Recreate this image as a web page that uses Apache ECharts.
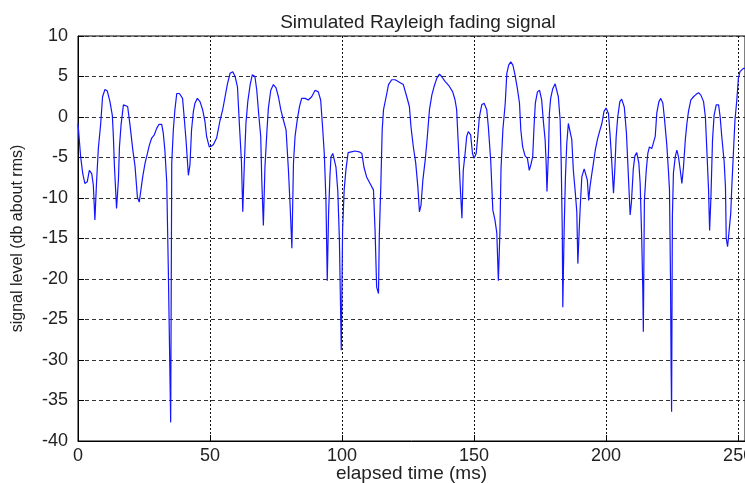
<!DOCTYPE html>
<html>
<head>
<meta charset="utf-8">
<title>Simulated Rayleigh fading signal</title>
<script src="https://cdn.jsdelivr.net/npm/echarts@6/dist/echarts.min.js"></script>
<style>
  html, body { margin: 0; padding: 0; background: #fff; }
  #chart { width: 745px; height: 483px; }
</style>
</head>
<body>
<div id="chart"></div>
<script>
// Elapsed time (ms) of each sample
const timeMs = [
  0, 1, 1.8, 2.6, 3.5, 4.3, 5.2, 5.8, 6.4, 7, 7.7, 8.6, 9.3, 10.2, 11.1, 12.1, 13, 13.4, 13.8, 14.6,
  15.3, 15.7, 16.3, 17.2, 17.9, 18.8, 19.7, 20.7, 21.6, 22.5, 23.2, 23.9, 24.5, 25.4, 26.3, 27, 27.9, 28.9, 29.8, 30.7,
  31.7, 32.3, 32.9, 33.6, 34.2, 35.1, 35.5, 36.1, 36.7, 37.4, 38.4, 39.6, 40.2, 40.9, 41.8, 42.4, 43, 43.7, 44.3, 45.2,
  46.2, 47.2, 48.1, 48.7, 49.7, 50.5, 51.3, 52.5, 53.8, 54.8, 55.7, 56.6, 57.6, 58.6, 59.5, 60.4, 61.1, 61.9, 62.4, 63,
  63.6, 64.3, 65.2, 66, 67, 67.7, 68.4, 69.2, 69.6, 70.2, 70.8, 71.5, 72.1, 73, 74, 75, 75.9, 76.8, 77.8, 78.8,
  79.7, 80.3, 81, 81.6, 82.2, 83.1, 83.9, 84.7, 86, 87.2, 88.5, 89.8, 91, 91.9, 92.7, 93.3, 93.9, 94.4, 94.9, 95.4,
  95.8, 96.5, 97.1, 97.7, 98.4, 99, 99.7, 100.2, 100.8, 101.5, 102.3, 103.5, 104.9, 106.5, 107.5, 108.3, 109.3, 110.6, 111.9, 112.5,
  113.1, 113.8, 114.1, 114.7, 115.2, 115.7, 116.7, 117.6, 118.8, 120.1, 121.7, 123.2, 124.5, 125.5, 126.1, 127, 127.9, 128.7, 129.3, 129.9,
  130.6, 131.5, 132.3, 133.1, 134, 134.8, 135.9, 136.9, 137.7, 139, 140.6, 141.9, 142.8, 143.4, 144.1, 144.7, 145.4, 145.9, 146.6, 147.2,
  147.8, 148.7, 149.4, 150, 150.8, 151.4, 152, 152.9, 153.8, 154.8, 155.4, 156.3, 157.1, 157.9, 158.6, 159.2, 159.8, 160.2, 160.9, 161.8,
  162.4, 163.1, 163.9, 164.7, 165.5, 166.4, 167.2, 167.7, 168.4, 169.3, 170.2, 170.9, 171.5, 172.2, 172.7, 173.2, 174, 174.8, 175.6, 176.2,
  176.9, 177.3, 177.6, 178.2, 178.5, 179, 179.8, 180.7, 181.3, 181.9, 182.6, 183, 183.4, 183.6, 184.1, 184.6, 185.1, 185.7, 186.4, 187,
  187.6, 188.3, 188.9, 189.3, 189.8, 190.2, 190.8, 191.7, 192.4, 192.9, 193.4, 193.9, 194.6, 195.2, 195.9, 196.7, 197.5, 198.4, 199.2, 200,
  200.9, 201.5, 202.1, 202.8, 203.3, 203.8, 204.4, 205.2, 205.9, 206.9, 207.7, 208.4, 209.1, 209.6, 210.3, 210.9, 211.6, 212.4, 212.9, 213.5,
  213.9, 214.1, 214.5, 215.2, 215.8, 216.4, 217.3, 218, 218.6, 219.2, 220, 220.7, 221.5, 222.1, 223, 223.6, 224, 224.4, 224.6, 224.8,
  225.1, 225.5, 226.2, 226.8, 227.4, 228.1, 228.7, 229.3, 230, 230.6, 231.2, 232.1, 233.1, 234.1, 235, 235.9, 236.9, 237.6, 238.1, 238.8,
  239.2, 239.7, 240.3, 240.9, 241.7, 242.6, 243.2, 243.8, 244.7, 245.2, 245.5, 246, 246.6, 247.2, 247.6, 248.2, 248.8, 249.5, 250.1, 250.7,
  252, 253
];

// Signal level (dB about rms) at each sample
const levelDb = [
  -0.8, -4.9, -7, -8.2, -8, -6.6, -7, -8.4, -12.7, -8.2, -3.9, -0.8, 2.5, 3.4, 3.2, 1.9, 0.2, -2.4, -6.1, -11.3,
  -7.8, -3.7, -1, 1.5, 1.6, 1.3, -1, -3.9, -6.1, -9.9, -10.5, -10.3, -7.4, -5.7, -4.5, -3.5, -2.6, -2.2, -1.4, -0.9,
  -0.9, -2, -4.1, -8, -18.7, -37.7, -5.7, -1.6, 0.9, 2.9, 2.9, 2.3, 0, -2.8, -7.2, -5.9, -1.6, 0.7, 1.7, 2.3,
  1.9, 0.9, -0.6, -2.4, -3.7, -3.6, -3.4, -2.6, -0.4, 0.9, 2.5, 4.1, 5.4, 5.6, 5, 3.7, -0.8, -5.5, -11.7, -5.7,
  -0.8, 1.9, 4, 5.2, 5, 3.3, 0.5, -2.4, -7.8, -13.4, -6.2, -2, 1.1, 3.3, 4, 3.6, 2.5, 0.9, -0.4, -1.6,
  -6.6, -10.7, -16.2, -5.7, -2.4, -0.2, 1.3, 2.3, 2.3, 2.1, 2.5, 3.3, 3.1, 2.1, -1.6, -4.7, -10.3, -20.2, -11.9, -7.4,
  -4.9, -4.5, -4.5, -6.2, -9.2, -15.2, -28.8, -14, -9, -6.4, -4.4, -4.3, -4.2, -4.3, -4.5, -6.2, -7.4, -8.2, -9, -14,
  -21, -21.8, -14.8, -8.2, -1.6, 0.9, 2.5, 4, 4.6, 4.6, 4.3, 4, 2.5, 1.3, -1.2, -3.7, -5.7, -8.6, -11.7, -10.9,
  -7.8, -5.3, -2.4, 0.9, 2.7, 3.7, 4.8, 5.3, 5, 4.4, 3.8, 3.1, 2.1, 0.9, -3.9, -8.2, -12.5, -6.6, -4.5, -2.4,
  -1.8, -2.2, -4.5, -5.1, -4.5, -2.4, 0, 1.5, 1.7, 0.9, -1.2, -5.4, -11.5, -12.7, -14.3, -20.2, -14, -6.4, -1.6, 1.7,
  5.4, 6.4, 6.8, 6.4, 5.2, 3.5, 1.7, -1.6, -3.7, -4.8, -5.1, -6.6, -5.9, -4.9, -1.2, 1.7, 3.1, 3.3, 2.1, -0.4,
  -2.8, -5.7, -9.2, -4.1, 0.4, 2.3, 3.5, 4.1, 3.9, 2.5, -0.4, -5.7, -14, -23.5, -14, -7.4, -3.3, -0.8, -1, -2.8,
  -6.6, -9.2, -11.7, -18.1, -14, -11.1, -7.4, -6.4, -6.6, -7.8, -10.3, -8.6, -7, -5.7, -4.1, -2.8, -1.8, -0.8, 0.7, 1.1,
  0.4, -2.2, -5.3, -9.4, -6.5, -2.5, 0, 1.9, 2.2, 1.2, -2, -7, -12.1, -10.5, -6.4, -4.8, -4.4, -5.7, -8.2, -15.2,
  -21.4, -26.5, -10.3, -6.6, -4.5, -3.7, -3.9, -3.7, -2.4, 0.5, 1.9, 2.3, 1.7, -0.2, -3.5, -6.6, -9, -20.2, -30.5, -36.4,
  -12.3, -6.9, -4.9, -4.1, -4.9, -6.6, -8.2, -6.2, -2.8, -0.8, 0.7, 2.1, 2.5, 2.8, 3, 2.7, 1.9, 0, -3.7, -9,
  -14, -9.9, -2.8, 0.2, 1.5, 1.5, 0, -2.4, -5.5, -8.6, -15, -16, -14, -11.9, -8.6, -4.5, -0.4, 2.1, 4.8, 5.6,
  6, 6
];

// Axis ranges and tick steps
const xRange = [0, 252.6];
const xStep = 50;
const yRange = [-40, 10];
const yStep = 5;

const titleText = 'Simulated Rayleigh fading signal';
const xName = 'elapsed time (ms)';
const yName = 'signal level (db about rms)';

const points = timeMs.map((t, i) => [t, levelDb[i]]);

const fontFamily = '"Liberation Sans", Arial, Helvetica, sans-serif';
const textColor = '#222';

const chart = echarts.init(document.getElementById('chart'), null, { renderer: 'canvas' });

chart.setOption({
  animation: false,
  backgroundColor: '#ffffff',
  title: {
    text: titleText,
    left: 413,
    top: 8,
    textAlign: 'center',
    textStyle: { fontFamily, fontSize: 19, fontWeight: 'normal', color: textColor }
  },
  grid: {
    left: 78,
    right: 0,
    top: 36,
    bottom: 42,
    containLabel: false,
    outerBoundsMode: 'none',
    show: true,
    borderColor: '#000',
    borderWidth: 1,
    backgroundColor: '#ffffff'
  },
  xAxis: {
    type: 'value',
    min: xRange[0],
    max: xRange[1],
    interval: xStep,
    name: xName,
    nameLocation: 'middle',
    nameGap: 23,
    nameMoveOverlap: false,
    nameTextStyle: { fontFamily, fontSize: 19, color: textColor },
    axisLine: { show: true, onZero: false, lineStyle: { color: '#000', width: 1 } },
    axisTick: { show: true, inside: true, length: 6, lineStyle: { color: '#000' } },
    axisLabel: {
      show: true, margin: 6, showMaxLabel: false,
      fontFamily, fontSize: 18, color: textColor
    },
    splitLine: { show: true, lineStyle: { color: '#111', width: 1, type: [2, 2] } }
  },
  yAxis: {
    type: 'value',
    min: yRange[0],
    max: yRange[1],
    interval: yStep,
    name: yName,
    nameLocation: 'middle',
    nameRotate: 90,
    nameGap: 52,
    nameMoveOverlap: false,
    nameTextStyle: { fontFamily, fontSize: 16, color: textColor },
    axisLine: { show: true, onZero: false, lineStyle: { color: '#000', width: 1 } },
    axisTick: { show: true, inside: true, length: 6, lineStyle: { color: '#000' } },
    axisLabel: { show: true, margin: 10, fontFamily, fontSize: 18, color: textColor },
    splitLine: { show: true, lineStyle: { color: '#333', width: 1, type: [4, 3] } }
  },
  series: [{
    type: 'line',
    data: points,
    showSymbol: false,
    symbol: 'none',
    smooth: false,
    clip: true,
    lineStyle: { color: '#1414ff', width: 1.2 },
    z: 5
  }]
});
</script>
</body>
</html>
